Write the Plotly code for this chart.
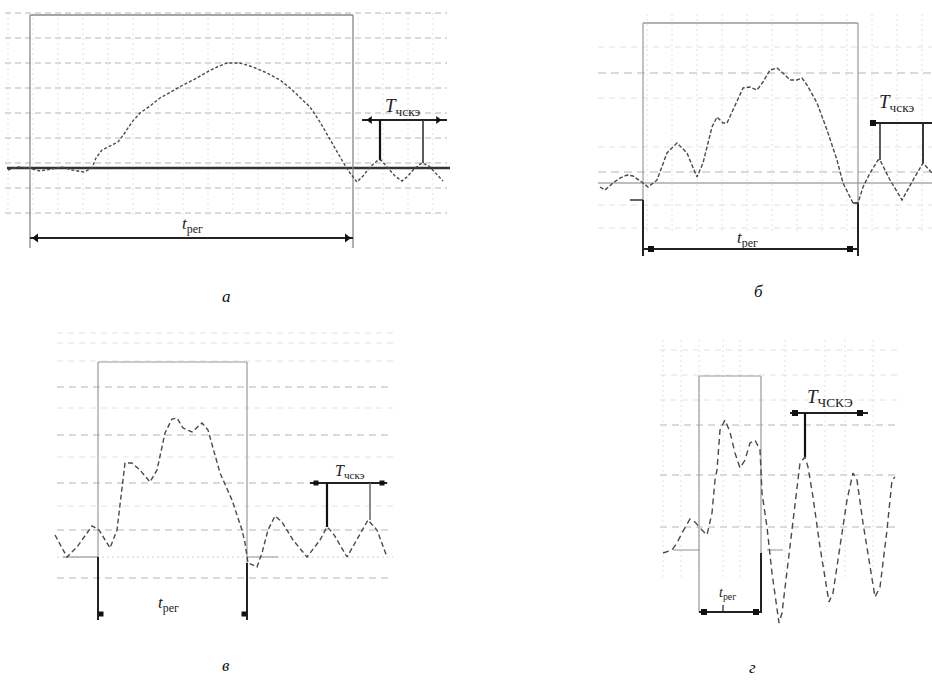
import plotly.graph_objects as go

W, H = 932, 684

# ---------------- waveform data (t: time from start of transient, v: amplitude above baseline) -------------
a_t = [-22, -12, -2, 10, 22, 32, 42, 54, 62, 66, 72, 80, 88, 94, 102, 110, 120, 130, 142, 155, 167, 177, 187,
       197, 210, 223, 237, 250, 260, 270, 280, 290, 300, 307, 313, 320, 327, 333, 340, 347, 351, 358, 365, 372,
       378, 385, 392, 399, 406, 413]
a_v = [-2, 1, 0, -3, -1, 1, -2, -4, 0, 10, 18, 22, 26, 34, 46, 55, 62, 70, 77, 84, 90, 96, 101,
       105, 105, 101, 95, 88, 80, 70, 61, 46, 28, 16, 6, -5, -14, -8, 1, 7, 8, 0, -8, -13,
       -8, 0, 5, 2, -6, -13]

b_t = [-43, -38, -30, -23, -16, -10, 0, 5, 14, 24, 34, 44, 54, 60, 69, 74, 80, 84, 90, 100, 107, 114, 120,
       127, 134, 140, 147, 154, 159, 164, 174, 184, 194, 200, 210, 215, 220, 227, 235, 237, 247, 259, 269,
       280, 289]
b_v = [-4, -7, 0, 5, 8, 7, 0, -4, 3, 30, 40, 30, 6, 20, 56, 66, 60, 60, 73, 95, 96, 93, 101,
       113, 115, 110, 103, 103, 105, 98, 80, 53, 23, 0, -20, -20, -4, 10, 23, 23, 3, -17, 1,
       20, 10]

c_t = [-43, -31, -21, -6, 1, 12, 19, 27, 34, 42, 52, 59, 67, 74, 79, 85, 94, 104, 110, 122, 134, 144, 147,
       150, 159, 164, 170, 177, 184, 195, 209, 222, 229, 235, 249, 259, 270, 279, 289]
c_v = [22, 0, 10, 31, 27, 9, 27, 94, 94, 87, 75, 87, 124, 138, 139, 129, 125, 134, 127, 84, 57, 27, 14,
       -6, -10, 4, 27, 41, 35, 17, 0, 17, 30, 24, 0, 17, 37, 27, 0]

d_t = [-36, -27, -22, -17, -9, -4, 3, 8, 13, 16, 18, 21, 26, 31, 36, 41, 46, 51, 56, 61, 63, 68, 73, 78, 80,
       83, 88, 93, 98, 101, 106, 109, 114, 121, 128, 130, 134, 141, 148, 154, 158, 164, 171, 176, 181, 188,
       193, 196]
d_v = [-3, 0, 7, 17, 31, 28, 20, 15, 37, 70, 80, 120, 130, 118, 97, 82, 90, 107, 110, 100, 57, 23, -23, -60,
       -73, -63, -23, 20, 57, 87, 93, 83, 53, 3, -40, -52, -43, 3, 50, 77, 70, 27, -17, -47, -37, 20,
       70, 73]

# transient durations (t_рег) and oscillation-period markers (T_чскэ)
t_reg = {"a": 323, "b": 215, "c": 149, "d": 62}
T_marks = {"a": [350, 393], "b": [237, 280], "c": [229, 272], "d": [106]}

panel_letters = ["а", "б", "в", "г"]

# ---------------- panel layout (pixel boxes) ----------------
panels = {
    "a": dict(px=(0, 460), py=(0, 260), origin=30, base=168, n=""),
    "b": dict(px=(580, 932), py=(0, 270), origin=643, base=183, n="2"),
    "c": dict(px=(40, 420), py=(300, 640), origin=98, base=557, n="3"),
    "d": dict(px=(640, 932), py=(330, 640), origin=699, base=550, n="4"),
}

fig = go.Figure()
layout = dict(width=W, height=H, margin=dict(l=0, r=0, t=0, b=0),
              paper_bgcolor="white", plot_bgcolor="white", showlegend=False, hovermode=False)
for k, p in panels.items():
    n = p["n"]
    layout["xaxis" + n] = dict(domain=[p["px"][0] / W, p["px"][1] / W],
                               range=[p["px"][0] - p["origin"], p["px"][1] - p["origin"]],
                               visible=False, fixedrange=True, anchor="y" + n)
    layout["yaxis" + n] = dict(domain=[1 - p["py"][1] / H, 1 - p["py"][0] / H],
                               range=[p["base"] - p["py"][1], p["base"] - p["py"][0]],
                               visible=False, fixedrange=True, anchor="x" + n)
fig.update_layout(**layout)

shapes = []


def ln(k, x0, y0, x1, y1, color="#222", width=1.5, dash="solid", opacity=1.0):
    n = panels[k]["n"]
    shapes.append(dict(type="line", xref="x" + n, yref="y" + n, x0=x0, y0=y0, x1=x1, y1=y1,
                       line=dict(color=color, width=width, dash=dash), opacity=opacity, layer="below"))


def marks(k, xs, ys, symbol="square", size=6):
    n = panels[k]["n"]
    fig.add_trace(go.Scatter(x=xs, y=ys, mode="markers", xaxis="x" + n, yaxis="y" + n,
                             marker=dict(symbol=symbol, size=size, color="#111"), hoverinfo="skip"))


def wave(k, t, v, dash):
    n = panels[k]["n"]
    fig.add_trace(go.Scatter(x=t, y=v, mode="lines", xaxis="x" + n, yaxis="y" + n,
                             line=dict(color="#4a4a4a", width=1.4, dash=dash), hoverinfo="skip"))


def txt(k, x, y, text, size=14):
    n = panels[k]["n"]
    fig.add_annotation(x=x, y=y, xref="x" + n, yref="y" + n, text=text, showarrow=False,
                       font=dict(family="Liberation Serif", size=size, color="#222"))


GRID = "#b5b5b5"
FAINT = "#e2e2e2"
TREG = "<i>t</i><sub>рег</sub>"
TCH = "<i>T</i><sub>чскэ</sub>"

# ---------------- panel а ----------------
for v in range(-45, 160, 25):
    ln("a", -25, v, 417, v, GRID, 1, "6px,4px")
for t in range(-22, 418, 25):
    ln("a", t, -47, t, 157, FAINT, 1, "2px,3px")
ln("a", -23, 0, 420, 0, "#333", 2.5)
ln("a", 0, 153, t_reg["a"], 153, "#888", 1.5)
ln("a", 0, 153, 0, -80, "#888", 1.3)
ln("a", t_reg["a"], 153, t_reg["a"], -80, "#888", 1.3)
ln("a", 0, -70, t_reg["a"], -70, "#222", 2)
marks("a", [6], [-70], "triangle-left", 8)
marks("a", [t_reg["a"] - 6], [-70], "triangle-right", 8)
txt("a", 162, -57, TREG, 17)
ln("a", 332, 48, 417, 48, "#222", 1.8)
marks("a", [340], [48], "triangle-left", 7)
marks("a", [408], [48], "triangle-right", 7)
ln("a", T_marks["a"][0], 48, T_marks["a"][0], 8, "#111", 2.2)
ln("a", T_marks["a"][1], 48, T_marks["a"][1], 5, "#333", 1.6)
txt("a", 372, 61, TCH, 19)
wave("a", a_t, a_v, "3px,2px")

# ---------------- panel б ----------------
for v in [110, 11]:
    ln("b", -45, v, 289, v, GRID, 1.1, "8px,5px")
for v in [136, 85, 36, -22, -45]:
    ln("b", -45, v, 289, v, FAINT, 1, "6px,5px")
for t in range(4, 290, 25):
    ln("b", t, -48, t, 170, FAINT, 1, "2px,3px")
ln("b", -45, 0, 289, 0, "#aaa", 1.3)
ln("b", 0, 160, t_reg["b"], 160, "#999", 1.3)
ln("b", 0, 160, 0, -17, "#999", 1.2)
ln("b", t_reg["b"], 160, t_reg["b"], -20, "#999", 1.2)
ln("b", 0, -17, 0, -73, "#222", 2)
ln("b", t_reg["b"], -20, t_reg["b"], -73, "#222", 2)
ln("b", -13, -17, 0, -17, "#333", 1.5)
ln("b", t_reg["b"] - 5, -20, t_reg["b"], -20, "#333", 1.5)
ln("b", 0, -66, t_reg["b"], -66, "#222", 2)
marks("b", [8, t_reg["b"] - 8], [-66, -66], "square", 6)
txt("b", 104, -56, TREG, 17)
ln("b", 227, 60, 289, 60, "#222", 2)
marks("b", [230], [60], "square", 6)
ln("b", T_marks["b"][0], 60, T_marks["b"][0], 23, "#333", 1.6)
ln("b", T_marks["b"][1], 60, T_marks["b"][1], 20, "#222", 1.8)
txt("b", 253, 80, TCH, 19)
wave("b", b_t, b_v, "4px,2px")

# ---------------- panel в ----------------
for v in [170, 122, 74, 27, -21]:
    ln("c", -41, v, 295, v, GRID, 1, "7px,5px")
for v in [224, 214, 196, 149, 100, 51]:
    ln("c", -41, v, 295, v, FAINT, 1, "6px,5px")
ln("c", -41, 0, 295, 0, "#d0d0d0", 1, "2px,3px")
ln("c", -35, 0, 0, 0, "#aaa", 1.3)
ln("c", t_reg["c"], 0, 180, 0, "#aaa", 1.3)
ln("c", 0, 195, t_reg["c"], 195, "#999", 1.2)
ln("c", 0, 195, 0, 0, "#999", 1.2)
ln("c", t_reg["c"], 195, t_reg["c"], -6, "#999", 1.2)
ln("c", 0, 0, 0, -63, "#222", 2)
ln("c", t_reg["c"], -6, t_reg["c"], -63, "#222", 2)
marks("c", [3, t_reg["c"] - 3], [-57, -57], "square", 5)
txt("c", 70, -47, TREG, 17)
ln("c", 212, 74, 289, 74, "#222", 1.8)
marks("c", [218, 284], [74, 74], "square", 5)
ln("c", T_marks["c"][0], 74, T_marks["c"][0], 30, "#111", 2.2)
ln("c", T_marks["c"][1], 74, T_marks["c"][1], 37, "#666", 1.5)
txt("c", 252, 86, TCH, 16)
wave("c", c_t, c_v, "5px,3px")

# ---------------- panel г ----------------
for v in [125, 75, 23]:
    ln("d", -39, v, 201, v, GRID, 1, "7px,5px")
for v in [200, 175, 150]:
    ln("d", -39, v, 201, v, FAINT, 1, "6px,5px")
for t in [-36, -18, 0, 24, 41, 86, 126, 146, 174]:
    ln("d", t, -27, t, 210, FAINT, 1, "2px,3px")
ln("d", -26, 0, 1, 0, "#aaa", 1.3)
ln("d", 68, 0, 84, 0, "#aaa", 1.3)
ln("d", 0, 174, t_reg["d"], 174, "#999", 1.2)
ln("d", 0, 174, 0, -62, "#999", 1.2)
ln("d", t_reg["d"], 174, t_reg["d"], -3, "#999", 1.2)
ln("d", t_reg["d"], -3, t_reg["d"], -63, "#222", 2)
ln("d", 0, -62, t_reg["d"], -62, "#222", 2)
ln("d", 24, -62, 24, -55, "#222", 1.2)
marks("d", [5, t_reg["d"] - 5], [-62, -62], "square", 6)
txt("d", 28, -43, TREG, 14)
ln("d", 91, 137, 169, 137, "#222", 2)
marks("d", [96, 161], [137, 137], "square", 6)
ln("d", T_marks["d"][0], 137, T_marks["d"][0], 93, "#111", 2.2)
txt("d", 131, 152, "<i>T</i><sub>ЧСКЭ</sub>", 19)
wave("d", d_t, d_v, "6px,4px")

fig.update_layout(shapes=shapes)

# panel captions
for letter, (x, y) in zip(panel_letters, [(220, 296), (765, 291), (220, 677), (758, 679)]):
    fig.add_annotation(x=x / W, y=1 - y / H, xref="paper", yref="paper", text="<i>" + letter + "</i>",
                       showarrow=False, font=dict(family="Liberation Serif", size=17, color="#111"))

fig.write_html("out.html", config={"displayModeBar": False},
               post_script="document.body.style.margin='0px';document.body.style.overflow='hidden';")
